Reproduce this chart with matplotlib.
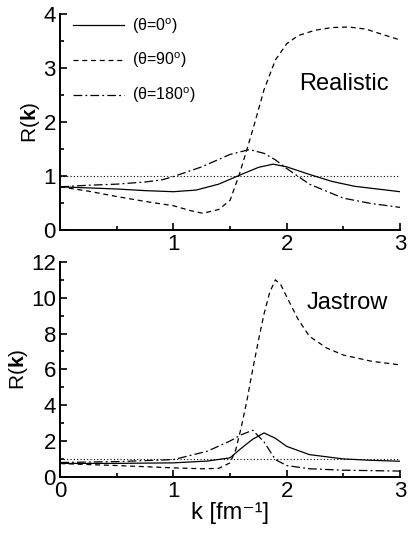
#! /usr/bin/python3

"""
R(k) ratio for three angles, realistic and Jastrow correlations.
"""

from matplotlib import pyplot as plt
from matplotlib.ticker import MultipleLocator
import matplotlib

matplotlib.rcParams['font.family'] = ['Liberation Sans', 'DejaVu Sans']
matplotlib.rcParams['mathtext.fontset'] = 'custom'
matplotlib.rcParams['mathtext.rm'] = 'Liberation Sans'
matplotlib.rcParams['mathtext.bf'] = 'Liberation Sans:bold'

LABELS = [u"(\u03b8=0$^{\\rm o}$)", u"(\u03b8=90$^{\\rm o}$)", u"(\u03b8=180$^{\\rm o}$)"]

# realistic panel
real_k0 = [0, 0.25, 0.5, 0.75, 1.0, 1.2, 1.4, 1.6, 1.75, 1.88, 2.0, 2.2, 2.4, 2.6, 2.8, 3.0]
real_r0 = [0.80, 0.78, 0.76, 0.73, 0.71, 0.74, 0.85, 1.03, 1.16, 1.22, 1.17, 1.03, 0.90, 0.81, 0.76, 0.71]
real_k90 = [0, 0.25, 0.5, 0.75, 1.0, 1.15, 1.26, 1.4, 1.5, 1.58, 1.65, 1.72, 1.8, 1.9, 2.0, 2.1, 2.25, 2.4, 2.55, 2.7, 2.85, 3.0]
real_r90 = [0.80, 0.72, 0.62, 0.53, 0.45, 0.36, 0.31, 0.38, 0.55, 1.02, 1.50, 2.00, 2.60, 3.15, 3.45, 3.60, 3.70, 3.75, 3.76, 3.72, 3.62, 3.52]
real_k180 = [0, 0.25, 0.5, 0.75, 0.9, 1.0, 1.25, 1.5, 1.67, 1.8, 1.9, 2.0, 2.2, 2.5, 2.75, 3.0]
real_r180 = [0.80, 0.83, 0.85, 0.89, 0.93, 0.99, 1.17, 1.40, 1.49, 1.42, 1.30, 1.14, 0.85, 0.59, 0.49, 0.42]

# jastrow panel
jas_k0 = [0, 0.5, 1.0, 1.3, 1.5, 1.6, 1.7, 1.8, 1.9, 2.0, 2.2, 2.5, 2.75, 3.0]
jas_r0 = [0.75, 0.75, 0.78, 0.88, 1.06, 1.6, 2.1, 2.45, 2.15, 1.7, 1.24, 1.0, 0.92, 0.87]
jas_k90 = [0, 0.5, 1.0, 1.25, 1.4, 1.5, 1.55, 1.6, 1.65, 1.7, 1.75, 1.8, 1.85, 1.9, 1.95, 2.0, 2.1, 2.2, 2.35, 2.5, 2.75, 3.0]
jas_r90 = [0.74, 0.63, 0.50, 0.45, 0.47, 0.78, 1.5, 2.8, 4.3, 6.0, 7.6, 9.1, 10.3, 11.0, 10.7, 10.05, 8.8, 7.85, 7.2, 6.8, 6.45, 6.25]
jas_k180 = [0, 0.5, 1.0, 1.3, 1.5, 1.6, 1.7, 1.8, 1.9, 2.0, 2.2, 2.5, 3.0]
jas_r180 = [0.80, 0.85, 0.96, 1.43, 2.0, 2.35, 2.6, 1.95, 0.96, 0.63, 0.45, 0.37, 0.32]

STYLES = ['-', (0, (4, 3)), (0, (7, 2.5, 1.5, 2.5))]


def setup_axis(ax, ymax, ystep, yminor, xlabels):
    ax.set_xlim(0, 3)
    ax.set_ylim(0, ymax)
    for s in ['top', 'right']:
        ax.spines[s].set_visible(False)
    for s in ['left', 'bottom']:
        ax.spines[s].set_linewidth(1.4)
    ax.xaxis.set_major_locator(MultipleLocator(1))
    ax.xaxis.set_minor_locator(MultipleLocator(0.5))
    ax.yaxis.set_major_locator(MultipleLocator(ystep))
    ax.yaxis.set_minor_locator(MultipleLocator(yminor))
    ax.tick_params(which='both', direction='in', labelsize=16, width=1.2, pad=3)
    ax.tick_params(which='major', length=5)
    ax.tick_params(which='minor', length=3)
    if not xlabels:
        ax.set_xticks([1, 2, 3])
    ax.set_ylabel(r"R($\mathbf{k}$)", fontsize=15, labelpad=1)
    ax.axhline(1.0, color='black', lw=0.8, ls=(0, (1, 2)))


fig = plt.figure(figsize=(4.09, 5.40), dpi=100)
ax1 = fig.add_axes([0.147, 0.574, 0.831, 0.400])
ax2 = fig.add_axes([0.147, 0.117, 0.831, 0.398])

setup_axis(ax1, 4, 1, 0.5, False)
setup_axis(ax2, 12, 2, 1, True)

for k, r, ls, lab in zip([real_k0, real_k90, real_k180], [real_r0, real_r90, real_r180], STYLES, LABELS):
    ax1.plot(k, r, color='black', lw=0.9, ls=ls, label=lab)
for k, r, ls in zip([jas_k0, jas_k90, jas_k180], [jas_r0, jas_r90, jas_r180], STYLES):
    ax2.plot(k, r, color='black', lw=0.9, ls=ls)

ax1.legend(loc='upper left', bbox_to_anchor=(0.01, 1.035), frameon=False, fontsize=11.5,
           handlelength=3.2, handletextpad=0.5, labelspacing=0.95, borderaxespad=0.2)

ax1.text(0.835, 0.676, "Realistic", transform=ax1.transAxes, fontsize=17, ha='center', va='center')
ax2.text(0.845, 0.81, "Jastrow", transform=ax2.transAxes, fontsize=17, ha='center', va='center')

ax2.set_xlabel(u"k [fm\u207b\u00b9]", fontsize=17, labelpad=0)

fig.savefig("out.png", dpi=100)
